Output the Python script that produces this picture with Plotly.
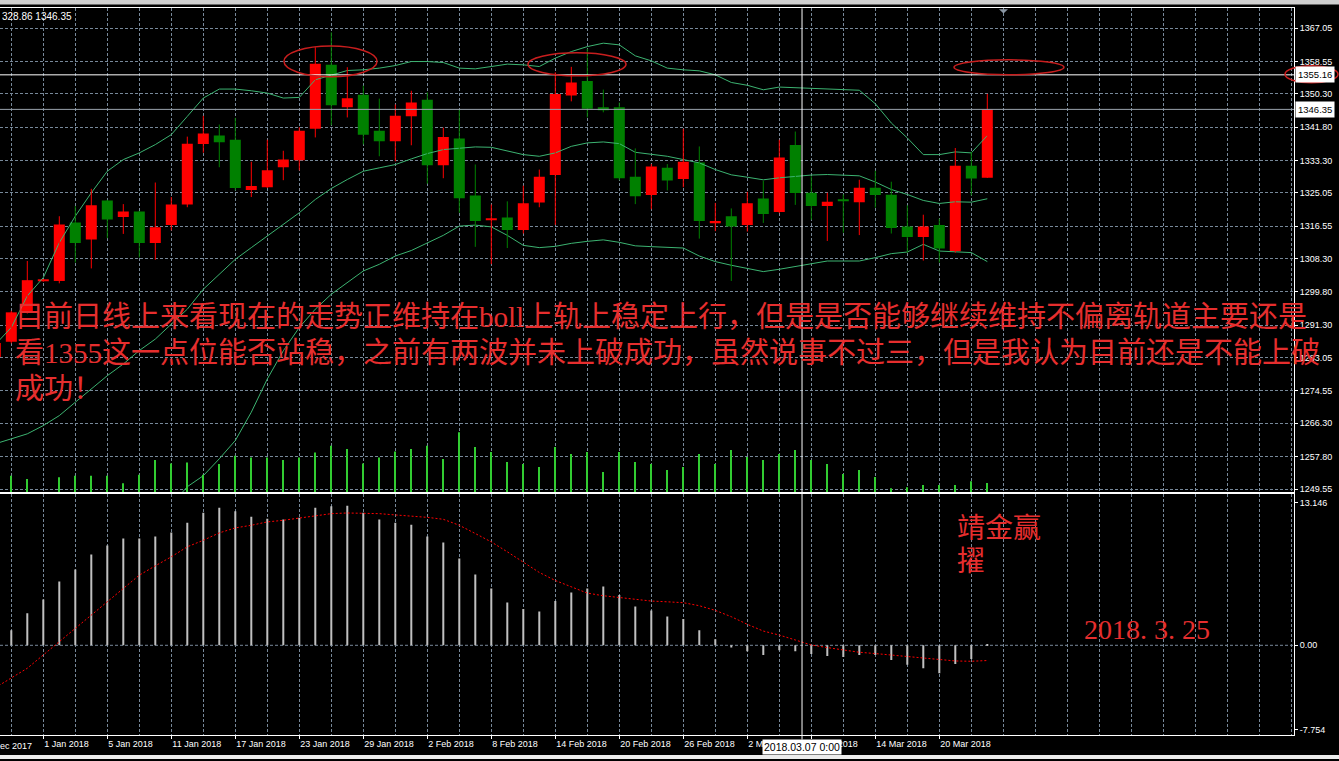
import plotly.graph_objects as go
import pandas as pd

# ---------------- data ----------------
DATES = ["2017-12-27", "2017-12-28", "2017-12-29", "2018-01-01", "2018-01-02", "2018-01-03",
         "2018-01-04", "2018-01-05", "2018-01-08", "2018-01-09", "2018-01-10", "2018-01-11",
         "2018-01-12", "2018-01-15", "2018-01-16", "2018-01-17", "2018-01-18", "2018-01-19",
         "2018-01-22", "2018-01-23", "2018-01-24", "2018-01-25", "2018-01-26", "2018-01-29",
         "2018-01-30", "2018-01-31", "2018-02-01", "2018-02-02", "2018-02-05", "2018-02-06",
         "2018-02-07", "2018-02-08", "2018-02-09", "2018-02-12", "2018-02-13", "2018-02-14",
         "2018-02-15", "2018-02-16", "2018-02-19", "2018-02-20", "2018-02-21", "2018-02-22",
         "2018-02-23", "2018-02-26", "2018-02-27", "2018-02-28", "2018-03-01", "2018-03-02",
         "2018-03-05", "2018-03-06", "2018-03-07", "2018-03-08", "2018-03-09", "2018-03-12",
         "2018-03-13", "2018-03-14", "2018-03-15", "2018-03-16", "2018-03-19", "2018-03-20",
         "2018-03-21", "2018-03-22", "2018-03-23"]

OPEN = [1283.2, 1287.1, 1294.6, 1302.6, 1302.6, 1317.5, 1313.2, 1323.1, 1318.9, 1320.3,
        1312.3, 1316.9, 1322.1, 1337.5, 1339.7, 1338.6, 1325.8, 1326.5, 1331.6, 1333.4,
        1341.4, 1357.7, 1346.9, 1350.1, 1340.9, 1338.2, 1344.6, 1348.8, 1332.1, 1338.9,
        1324.4, 1318.1, 1318.8, 1315.6, 1322.6, 1329.6, 1349.9, 1353.6, 1346.9, 1346.9,
        1329.2, 1324.5, 1331.5, 1328.6, 1332.8, 1317.55, 1319.1, 1316.9, 1323.6, 1320.2,
        1337.3, 1325.1, 1321.7, 1323.3, 1322.7, 1326.4, 1324.6, 1316.5, 1313.8, 1316.9,
        1310.2, 1332.0, 1328.9]
HIGH = [1287.2, 1295.0, 1307.7, 1303.1, 1319.1, 1321.7, 1326.1, 1323.3, 1322.2, 1320.5,
        1327.7, 1324.0, 1339.4, 1344.7, 1342.5, 1344.2, 1333.0, 1338.6, 1335.8, 1341.8,
        1362.2, 1366.0, 1357.1, 1352.4, 1349.1, 1347.6, 1351.1, 1350.7, 1341.7, 1346.3,
        1332.3, 1322.1, 1322.9, 1326.9, 1331.0, 1355.8, 1357.2, 1361.8, 1351.4, 1348.1,
        1336.4, 1332.4, 1332.4, 1341.4, 1336.9, 1322.5, 1321.1, 1325.3, 1328.1, 1338.6,
        1340.7, 1329.3, 1325.1, 1324.7, 1328.4, 1330.7, 1327.9, 1321.9, 1319.5, 1318.5,
        1336.5, 1335.5, 1350.3]
LOW = [1282.5, 1286.7, 1294.3, 1302.4, 1302.0, 1307.3, 1305.8, 1313.5, 1314.6, 1308.6,
       1308.0, 1315.5, 1321.4, 1335.3, 1331.6, 1325.7, 1324.0, 1326.3, 1328.3, 1330.8,
       1339.2, 1342.3, 1344.3, 1337.4, 1334.4, 1333.1, 1337.2, 1327.4, 1328.8, 1320.0,
       1311.3, 1306.9, 1311.0, 1314.7, 1321.4, 1316.9, 1348.4, 1344.3, 1345.6, 1328.3,
       1322.2, 1320.9, 1325.7, 1326.5, 1313.4, 1315.3, 1302.6, 1315.2, 1317.4, 1319.9,
       1322.0, 1318.2, 1312.8, 1314.9, 1314.3, 1321.3, 1314.7, 1309.8, 1307.8, 1307.3,
       1309.8, 1324.4, 1328.86]
CLOSE = [1286.8, 1294.6, 1302.8, 1302.95, 1317.0, 1312.3, 1321.9, 1318.3, 1320.3, 1312.3,
         1316.3, 1322.1, 1337.6, 1340.2, 1338.0, 1326.3, 1326.8, 1330.8, 1333.6, 1340.9,
         1358.0, 1347.4, 1349.2, 1339.9, 1338.2, 1344.7, 1348.1, 1332.1, 1339.3, 1323.7,
         1317.9, 1318.45, 1315.6, 1322.4, 1329.2, 1350.3, 1353.2, 1346.5, 1346.1, 1328.8,
         1324.2, 1331.8, 1328.2, 1333.0, 1317.9, 1317.9, 1316.5, 1322.4, 1319.7, 1334.1,
         1325.0, 1321.7, 1322.8, 1322.95, 1326.4, 1324.5, 1316.1, 1313.8, 1316.5, 1310.9,
         1332.0, 1328.7, 1346.35]

# Bollinger bands (20)
BB_UPPER = [1286.4, 1290.75, 1298.79, 1303.46, 1312.37, 1319.13, 1325.08, 1330.58, 1333.55, 1335.25,
            1337.37, 1339.91, 1344.57, 1349.24, 1351.53, 1351.53, 1351.1, 1350.51, 1349.24, 1349.40,
            1353.9, 1355.17, 1356.26, 1356.44, 1356.87, 1357.53, 1358.55, 1358.55, 1358.30, 1356.87,
            1356.69, 1357.28, 1357.89, 1357.71, 1357.28, 1359.41, 1361.09, 1362.36, 1363.23, 1362.80,
            1360.0, 1358.73, 1356.87, 1356.44, 1356.18, 1355.17, 1353.21, 1352.50, 1351.35, 1352.04,
            1351.86, 1351.79, 1351.61, 1351.48, 1351.23, 1347.79, 1342.88, 1339.07, 1334.82, 1334.82,
            1335.51, 1335.26, 1339.66]
BB_MID = [1261.08, 1262.35, 1263.62, 1265.73, 1268.27, 1271.68, 1275.06, 1278.45, 1281.42, 1284.86,
          1287.78, 1291.59, 1295.41, 1300.49, 1304.31, 1308.12, 1311.10, 1314.05, 1317.02, 1320.0,
          1323.38, 1326.18, 1328.47, 1330.58, 1331.44, 1332.28, 1333.73, 1335.08, 1336.10, 1336.53,
          1336.78, 1336.68, 1335.66, 1334.82, 1334.39, 1335.25, 1336.93, 1337.80, 1338.05, 1337.62,
          1335.41, 1334.82, 1334.39, 1333.55, 1332.71, 1331.01, 1329.66, 1329.05, 1328.39, 1328.90,
          1329.31, 1329.61, 1329.74, 1329.66, 1329.41, 1327.83, 1325.92, 1324.65, 1323.13, 1322.36,
          1322.79, 1322.69, 1323.56]
BB_LOWER = [None, None, None, None, None, None, None, None, None, None,
            1241.0, 1245.5, 1250.14, 1252.94, 1257.26, 1261.92, 1269.14, 1277.61, 1284.80, 1290.75,
            1295.41, 1299.22, 1302.20, 1305.15, 1306.85, 1308.96, 1310.36, 1312.37, 1314.23, 1316.59,
            1316.84, 1316.39, 1314.23, 1311.68, 1311.10, 1311.43, 1312.19, 1312.70, 1313.08, 1312.45,
            1311.56, 1311.35, 1311.10, 1311.0, 1308.96, 1307.54, 1306.60, 1305.76, 1304.99, 1305.58,
            1306.27, 1306.85, 1307.69, 1307.69, 1307.69, 1308.55, 1309.57, 1309.98, 1311.94, 1310.23,
            1309.98, 1309.83, 1307.54]

# tick volume (relative units)
VOLUME = [150, 163, 130, 0, 147, 163, 163, 163, 87, 173,
          320, 287, 297, 173, 280, 363, 347, 347, 320, 347,
          397, 463, 430, 287, 347, 407, 430, 463, 330, 600,
          450, 400, 300, 280, 250, 450, 380, 400, 200, 400,
          300, 280, 220, 250, 380, 280, 420, 350, 320, 380,
          420, 320, 280, 180, 220, 150, 37, 47, 70, 70,
          70, 107, 90]

# MACD main (histogram) and signal
MACD_HIST = [0.5, 1.38, 2.94, 4.22, 5.87, 6.97, 8.35, 9.17, 9.82, 9.82,
             10.0, 10.37, 11.28, 12.2, 12.66, 12.32, 11.83, 11.65, 11.56, 11.74,
             12.66, 12.78, 12.84, 12.2, 11.56, 11.28, 11.1, 10.0, 9.45, 7.98,
             6.51, 5.23, 3.94, 3.33, 3.12, 4.07, 4.86, 5.23, 5.41, 4.62,
             3.58, 3.21, 2.66, 2.42, 1.38, 0.55, -0.21, -0.55, -0.89, -0.46,
             -0.55, -0.8, -0.98, -1.07, -0.89, -0.89, -1.35, -1.8, -2.11, -2.57,
             -1.71, -1.26, 0.08]
MACD_SIGNAL = [-3.9, -3.03, -2.11, -0.89, 0.34, 1.62, 2.84, 4.0, 5.23, 6.45,
               7.31, 8.14, 9.06, 9.66, 10.34, 10.8, 11.04, 11.35, 11.5, 11.72,
               11.95, 12.11, 12.17, 12.17, 12.11, 11.99, 11.9, 11.77, 11.59, 11.04,
               10.28, 9.51, 8.6, 7.61, 6.7, 5.96, 5.35, 4.8, 4.56, 4.4,
               4.22, 4.07, 4.0, 3.92, 3.64, 3.21, 2.63, 1.93, 1.31, 0.94,
               0.49, 0.03, -0.21, -0.46, -0.64, -0.76, -0.89, -1.04, -1.19, -1.35,
               -1.44, -1.47, -1.4]

PRICE_TICKS = [1249.55, 1257.80, 1266.30, 1274.55, 1283.05, 1291.30, 1299.80, 1308.30,
               1316.55, 1325.05, 1333.30, 1341.80, 1350.30, 1358.55, 1367.05]
MACD_TICKS = [13.146, 0.0, -7.754]
MACD_TICKTEXT = ["13.146", "0.00", "-7.754"]
PRICE_RANGE = [1248.79, 1372.13]
MACD_RANGE = [-8.284, 13.917]

CROSS_PRICE = 1355.16
BID_PRICE = 1346.35
CROSS_BAR = 50.42
FIRST_LABEL = "26 Dec 2017"
HEADER = "328.86 1346.35"
NOTE_LINES = ["目前日线上来看现在的走势正维持在boll上轨上稳定上行，但是是否能够继续维持不偏离轨道主要还是",
              "看1355这一点位能否站稳，之前有两波并未上破成功，虽然说事不过三，但是我认为目前还是不能上破",
              "成功！"]
SIGNATURE = ["靖金赢", "擢"]
NOTE_DATE = "2018. 3. 25"

# ---------------- geometry / style ----------------
W, H = 1339, 761
BAR_PX = 16.0
BAR0_PX = -4.7
PLOT_R = 1294.0
TOP_Y0, TOP_Y1 = 8.3, 493.3
SUB_Y0, SUB_Y1 = 495.3, 737.3

UP_COLOR = "#ff0000"
DOWN_COLOR = "#008000"
BAND_COLOR = "#3cb371"
VOL_COLOR = "#32cd32"
HIST_COLOR = "#c0c0c0"
GRID_COLOR = "#778899"
GRID_DASH = "3px,2px"
TEXT_RED = "#e62e2e"
AXIS_FONT = dict(family="Liberation Sans, Arial", size=9, color="white")
NOTE_FONT = "Liberation Serif, Noto Sans CJK SC"


def px(x):
    return x / W


def py(y):
    return 1 - y / H


def bar_px(i):
    return BAR0_PX + BAR_PX * i


x_lo = (0 - BAR0_PX) / BAR_PX
x_hi = (PLOT_R - BAR0_PX) / BAR_PX
VOL_MAX = (TOP_Y1 - TOP_Y0) * 10

idx = list(range(len(DATES)))
dts = pd.to_datetime(DATES)

label_idx = list(range(3, len(DATES), 4))
label_txt = [f"{dts[i].day} {dts[i].strftime('%b %Y')}" for i in label_idx]
grid_idx = list(range(1, int(x_hi) + 1, 2))
minor_idx = [g for g in grid_idx if g not in label_idx]

fig = go.Figure()

# volume bars along the bottom of the price pane
fig.add_trace(go.Bar(x=idx, y=VOLUME, width=0.08, marker=dict(color=VOL_COLOR, line=dict(width=0)),
                     xaxis="x", yaxis="y3", hoverinfo="skip"))

# Bollinger bands
for band in (BB_UPPER, BB_MID, BB_LOWER):
    fig.add_trace(go.Scatter(x=idx, y=band, mode="lines", line=dict(color=BAND_COLOR, width=1),
                             xaxis="x", yaxis="y", hoverinfo="skip", connectgaps=False))

# candle wicks
for up in (True, False):
    wx, wy = [], []
    for i, o, h, l, c in zip(idx, OPEN, HIGH, LOW, CLOSE):
        if (c >= o) == up:
            wx += [i, i, None]
            wy += [l, h, None]
    fig.add_trace(go.Scatter(x=wx, y=wy, mode="lines",
                             line=dict(color=UP_COLOR if up else DOWN_COLOR, width=1),
                             xaxis="x", yaxis="y", hoverinfo="skip"))

# candle bodies
fig.add_trace(go.Bar(
    x=idx,
    y=[abs(c - o) for o, c in zip(OPEN, CLOSE)],
    base=[min(o, c) for o, c in zip(OPEN, CLOSE)],
    width=11 / BAR_PX,
    marker=dict(color=[UP_COLOR if c >= o else DOWN_COLOR for o, c in zip(OPEN, CLOSE)],
                line=dict(width=0)),
    xaxis="x", yaxis="y", hoverinfo="skip"))

# MACD
fig.add_trace(go.Bar(x=idx, y=MACD_HIST, width=2 / BAR_PX,
                     marker=dict(color=HIST_COLOR, line=dict(width=0)),
                     xaxis="x2", yaxis="y2", hoverinfo="skip"))
fig.add_trace(go.Scatter(x=idx, y=MACD_SIGNAL, mode="lines",
                         line=dict(color="#ff0000", width=1, dash="2px,2px"),
                         xaxis="x2", yaxis="y2", hoverinfo="skip"))

grid = dict(showgrid=True, gridcolor=GRID_COLOR, griddash=GRID_DASH, gridwidth=1)

fig.update_layout(
    width=W, height=H, margin=dict(l=0, r=0, t=0, b=0),
    paper_bgcolor="black", plot_bgcolor="black",
    showlegend=False, hovermode=False, barmode="overlay",
    xaxis=dict(domain=[0, px(PLOT_R)], range=[x_lo, x_hi], anchor="y",
               tickmode="array", tickvals=grid_idx, showticklabels=False, ticks="",
               zeroline=False, showline=True, linecolor="white", linewidth=1, mirror=True,
               fixedrange=True, **grid),
    yaxis=dict(domain=[py(TOP_Y1), py(TOP_Y0)], range=PRICE_RANGE, anchor="x", side="right",
               tickmode="array", tickvals=PRICE_TICKS, ticktext=[f"{v:.2f}" for v in PRICE_TICKS],
               ticks="outside", ticklen=3, tickcolor="white", tickfont=AXIS_FONT,
               zeroline=False, showline=True, linecolor="white", linewidth=1,
               fixedrange=True, **grid),
    yaxis3=dict(overlaying="y", range=[0, VOL_MAX], visible=False, anchor="x", fixedrange=True),
    xaxis2=dict(domain=[0, px(PLOT_R)], range=[x_lo, x_hi], anchor="y2",
                tickmode="array", tickvals=label_idx, ticktext=label_txt,
                ticklabelposition="outside right", ticks="outside", ticklen=3, tickcolor="white",
                tickfont=AXIS_FONT,
                minor=dict(tickmode="array", tickvals=minor_idx, ticks="", showgrid=True,
                           gridcolor=GRID_COLOR, griddash=GRID_DASH, gridwidth=1),
                zeroline=False, showline=True, linecolor="white", linewidth=1, mirror=True,
                fixedrange=True, **grid),
    yaxis2=dict(domain=[py(SUB_Y1), py(SUB_Y0)], range=MACD_RANGE, anchor="x2", side="right",
                tickmode="array", tickvals=MACD_TICKS, ticktext=MACD_TICKTEXT,
                ticks="outside", ticklen=3, tickcolor="white", tickfont=AXIS_FONT,
                showgrid=False, zeroline=False, showline=True, linecolor="white", linewidth=1,
                fixedrange=True),
)

shapes = [
    # window strips
    dict(type="rect", xref="paper", yref="paper", x0=0, x1=1, y0=py(0), y1=py(4.5),
         fillcolor="#cfcfcf", line=dict(width=0), layer="above"),
    dict(type="rect", xref="paper", yref="paper", x0=0, x1=1, y0=py(757), y1=0,
         fillcolor="#ececec", line=dict(width=0), layer="above"),
    # MACD zero level
    dict(type="line", xref="paper", yref="y2", x0=0, x1=px(PLOT_R), y0=0, y1=0,
         line=dict(color=GRID_COLOR, width=1, dash=GRID_DASH), layer="below"),
    # bid line
    dict(type="line", xref="paper", yref="y", x0=0, x1=px(PLOT_R), y0=BID_PRICE, y1=BID_PRICE,
         line=dict(color="#9aa3ad", width=1), layer="above"),
    # crosshair
    dict(type="line", xref="paper", yref="y", x0=0, x1=px(PLOT_R), y0=CROSS_PRICE, y1=CROSS_PRICE,
         line=dict(color="white", width=1), layer="above"),
    dict(type="line", xref="x", yref="paper", x0=CROSS_BAR, x1=CROSS_BAR, y0=py(741.5), y1=py(TOP_Y0),
         line=dict(color="white", width=1), layer="above"),
    # chart-shift marker
    dict(type="path", xref="paper", yref="paper",
         path=f"M {px(999)},{py(9.3)} L {px(1008)},{py(9.3)} L {px(1003.5)},{py(13.5)} Z",
         fillcolor="#8a96a3", line=dict(width=0), layer="above"),
]

# red ellipses marking the tested highs
ellipse_style = dict(color="#c81e1e", width=1.5)
for x0, x1, p0, p1 in [(18.04, 23.86, 1354.66, 1362.54),
                       (33.29, 39.42, 1354.91, 1360.76),
                       (59.92, 66.79, 1355.17, 1358.98)]:
    shapes.append(dict(type="circle", xref="x", yref="y", x0=x0, x1=x1, y0=p0, y1=p1,
                       line=ellipse_style, layer="above"))
shapes.append(dict(type="circle", xref="paper", yref="y", x0=px(1285), x1=px(1338),
                   y0=1353.13, y1=1357.46, line=ellipse_style, layer="above"))
fig.update_layout(shapes=shapes)

ann = []
# first (clipped) date label left of the visible range
ann.append(dict(text=FIRST_LABEL, xref="paper", yref="paper", x=px(bar_px(-1)), y=py(SUB_Y1 + 3.5),
                xanchor="left", yanchor="top", showarrow=False, font=AXIS_FONT))
# crosshair time label
ci = int(CROSS_BAR)
ann.append(dict(text=f"{dts[ci].strftime('%Y.%m.%d')} 0:00", xref="x", yref="paper",
                x=CROSS_BAR, y=py(741), xanchor="center", yanchor="top", showarrow=False,
                bgcolor="white", borderpad=1, font=dict(family="Liberation Sans", size=10.5, color="black")))
# price boxes
for p in (CROSS_PRICE, BID_PRICE):
    ann.append(dict(text=f"{p:.2f}", xref="paper", yref="y", x=px(PLOT_R + 1), y=p,
                    xanchor="left", yanchor="middle", showarrow=False, bgcolor="white", borderpad=2,
                    font=dict(family="Liberation Sans", size=9.5, color="black")))
# header
ann.append(dict(text=HEADER, xref="paper", yref="paper", x=0, y=py(16.5), xanchor="left",
                yanchor="middle", showarrow=False,
                font=dict(family="Liberation Sans", size=10, color="white")))
# commentary
for k, line in enumerate(NOTE_LINES):
    ann.append(dict(text=line, xref="paper", yref="paper", x=px(13), y=py(318 + 36 * k),
                    xanchor="left", yanchor="middle", showarrow=False,
                    font=dict(family=NOTE_FONT, size=29, color=TEXT_RED)))
for k, line in enumerate(SIGNATURE):
    ann.append(dict(text=line, xref="paper", yref="paper", x=px(955), y=py(530 + 33 * k),
                    xanchor="left", yanchor="middle", showarrow=False,
                    font=dict(family=NOTE_FONT, size=28, color=TEXT_RED)))
ann.append(dict(text=NOTE_DATE, xref="paper", yref="paper", x=px(1082), y=py(631),
                xanchor="left", yanchor="middle", showarrow=False,
                font=dict(family=NOTE_FONT, size=28, color=TEXT_RED)))
fig.update_layout(annotations=ann)

fig.write_html("out.html")
